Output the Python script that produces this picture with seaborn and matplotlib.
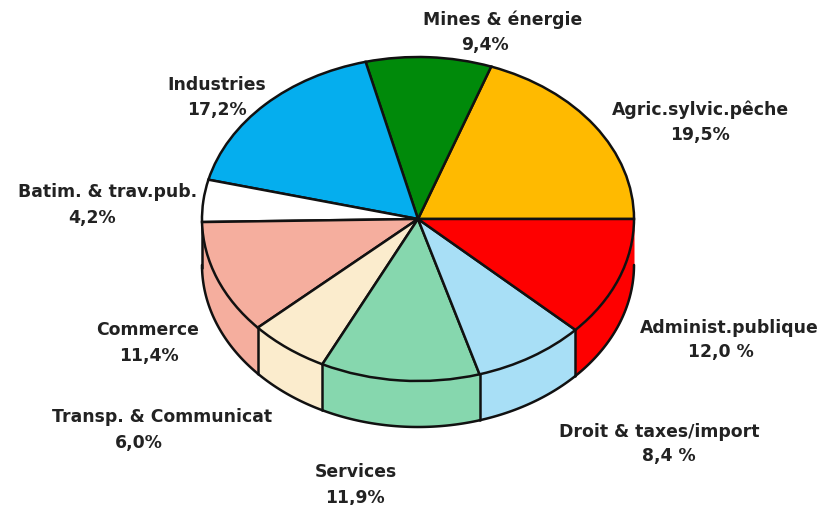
import numpy as np
import seaborn as sns
import matplotlib.pyplot as plt

sns.set_theme(style='white')
plt.rcParams['font.family'] = ['DejaVu Sans']

# Sectors, counter-clockwise from the right
sectors = ['Agric.sylvic.pêche', 'Mines & énergie', 'Industries', 'Batim. & trav.pub.', 'Commerce',
           'Transp. & Communicat', 'Services', 'Droit & taxes/import', 'Administ.publique']
shares = [19.5, 9.4, 17.2, 4.2, 11.4, 6.0, 11.9, 8.4, 12.0]
share_labels = ['19,5%', '9,4%', '17,2%', '4,2%', '11,4%', '6,0%', '11,9%', '8,4 %', '12,0 %']
colors = ['#ffba00', '#008a0a', '#05aeee', '#ffffff', '#f5ae9e', '#fbeccd', '#86d7ae', '#a8dff6', '#fe0000']

# Label anchors in picture pixels
name_x = [700, 503, 217, 108, 148, 162, 356, 659, 729]
name_y = [110, 20, 85, 192, 330, 417, 472, 432, 328]
value_x = [700, 485, 217, 92, 149, 139, 355, 669, 721]
value_y = [135, 45, 110, 218, 356, 443, 498, 456, 352]

W, H = 820, 506
CX, CY = 418, 220
RX, RY = 216, 162
DEPTH = 46 / RY

fig = plt.figure(figsize=(W / 100, H / 100), dpi=100)
ax = fig.add_axes([0, 0, 1, 1])

# Side wall of the disc, from the sector angles
edges = np.concatenate([[0], np.cumsum(shares)]) / sum(shares) * 360
for i, color in enumerate(colors):
    lo, hi = max(edges[i], 180), edges[i + 1]
    if hi <= lo:
        continue
    t = np.radians(np.linspace(lo, hi, 60))
    ax.fill_between(np.cos(t), np.sin(t), np.sin(t) - DEPTH, color=color, lw=0, zorder=1)
    ax.plot(np.cos(t), np.sin(t) - DEPTH, color='#111111', lw=1.8, zorder=2)
    if edges[i] >= 180:
        ax.plot([np.cos(t[0])] * 2, [np.sin(t[0]), np.sin(t[0]) - DEPTH], color='#111111', lw=1.8, zorder=2)

# Top face
ax.pie(shares, colors=colors, startangle=0, counterclock=True, radius=1,
       wedgeprops={'edgecolor': '#111111', 'linewidth': 1.8, 'zorder': 3})

ax.set_aspect('auto')
ax.set_xlim(-CX / RX, (W - CX) / RX)
ax.set_ylim((CY - H) / RY, CY / RY)
ax.axis('off')

for name, x, y in zip(sectors, name_x, name_y):
    fig.text(x / W, 1 - y / H, name, ha='center', va='center', fontsize=12.4, fontweight='bold', color='#222222')
for value, x, y in zip(share_labels, value_x, value_y):
    fig.text(x / W, 1 - y / H, value, ha='center', va='center', fontsize=12.4, fontweight='bold', color='#222222')

fig.savefig('out.png', dpi=100, facecolor='white')
